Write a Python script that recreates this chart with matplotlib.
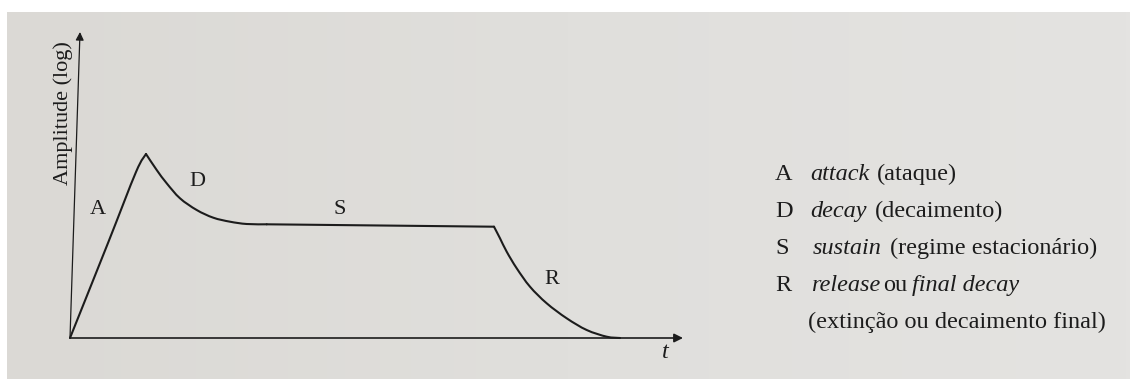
"""
ADSR envelope diagram (attack, decay, sustain, release).
"""
import matplotlib
matplotlib.use("Agg")
import matplotlib.pyplot as plt
from matplotlib.path import Path
from matplotlib.patches import PathPatch
import numpy as np

# envelope (time and amplitude in diagram units)
attack_t = [0.0, 0.38, 0.66, 0.76]
attack_amp = [0.0, 0.95, 1.66, 1.84]
decay_t = [0.76, 0.867, 0.967, 1.10, 1.267, 1.433, 1.60, 1.767, 1.967]
decay_amp = [1.84, 1.68, 1.547, 1.397, 1.28, 1.203, 1.163, 1.14, 1.137]
sustain_t = [1.967, 4.24]
sustain_amp = [1.137, 1.113]
release_t = [4.24, 4.30, 4.367, 4.467, 4.60, 4.767, 4.967, 5.167, 5.367, 5.50]
release_amp = [1.113, 0.997, 0.863, 0.697, 0.513, 0.347, 0.197, 0.08, 0.013, 0.0]

stage_letters = ["A", "D", "S", "R"]
stage_terms = ["attack", "decay", "sustain", "release"]
stage_notes = ["(ataque)", "(decaimento)", "(regime estacionário)", "ou"]
release_extra = "final decay"
release_note = "(extinção ou decaimento final)"

INK = "#1c1c1c"
FONT = "Liberation Serif"
FS = 17.5

W, H = 1130, 379
fig = plt.figure(figsize=(W / 100, H / 100), dpi=100, facecolor="white")


def px(x, y):
    """pixel position (from top left) -> figure fraction"""
    return x / W, 1 - y / H


def smooth_path(t, a):
    """Bezier path through the read points (Catmull-Rom tangents)."""
    p = np.column_stack([t, a])
    ext = np.vstack([p[0], p, p[-1]])
    verts, codes = [p[0]], [Path.MOVETO]
    for i in range(len(p) - 1):
        p0, p1, p2, p3 = ext[i], ext[i + 1], ext[i + 2], ext[i + 3]
        verts += [p1 + (p2 - p0) / 6, p2 - (p3 - p1) / 6, p2]
        codes += [Path.CURVE4] * 3
    return Path(verts, codes)


# photographed page (white strip on top and left edge)
page = fig.add_axes([7 / W, 0, 1 - 7 / W, 1 - 12 / H])
grad = np.linspace(0, 1, 256)[None, :]
page.imshow(grad, aspect="auto", extent=[0, 1, 0, 1],
            cmap=matplotlib.colors.LinearSegmentedColormap.from_list(
                "page", ["#dbd9d5", "#e0dfdc", "#e4e3e1"]))
page.set_axis_off()

# diagram axes: 1 unit = 100 px, origin at (70, 338)
ax = fig.add_axes([0, 0, 1, 1])
ax.set_xlim(-0.70, 10.60)
ax.set_ylim(-0.41, 3.38)
ax.set_axis_off()
ax.patch.set_alpha(0)

for t, a in [(attack_t, attack_amp), (decay_t, decay_amp),
             (sustain_t, sustain_amp), (release_t, release_amp)]:
    ax.add_patch(PathPatch(smooth_path(t, a), fill=False, edgecolor=INK,
                           lw=1.5, capstyle="round", joinstyle="round"))

# axes with arrows
ax.annotate("", xy=(6.13, 0.0), xytext=(0.0, 0.0),
            arrowprops=dict(arrowstyle="-|>", color=INK, lw=1.2,
                            mutation_scale=13, shrinkA=0, shrinkB=0))
ax.annotate("", xy=(0.10, 3.06), xytext=(0.0, 0.0),
            arrowprops=dict(arrowstyle="-|>", color=INK, lw=0.9,
                            mutation_scale=12, shrinkA=0, shrinkB=0))

ax.text(-0.07, 2.25, "Amplitude (log)", rotation=90, ha="center",
        va="center", fontsize=16, family=FONT, color=INK)
ax.text(5.95, -0.14, "t", ha="center", va="center", fontsize=FS,
        family=FONT, style="italic", color=INK)

stage_pos = [(0.28, 1.28), (1.27, 1.56), (2.70, 1.28), (4.82, 0.59)]
for letter, (tx, ty) in zip(stage_letters, stage_pos):
    ax.text(tx, ty, letter, ha="center", va="center", fontsize=16,
            family=FONT, color=INK)

# key on the right
baselines = [180, 217, 254, 291]
term_x = [810, 810, 813, 811]
style = dict(fontsize=FS, family=FONT, color=INK)
for i, letter in enumerate(stage_letters):
    y = baselines[i]
    fig.text(*px(775, y), letter, va="baseline", **style)
    term = fig.text(*px(term_x[i], y), stage_terms[i], style="italic",
                    va="baseline", **style)
    gap = 3 if i == 3 else 8
    # bbox bottom = baseline - descent, so va="bottom" keeps the baseline
    note = ax.annotate(stage_notes[i], xy=(1, 0), xycoords=term,
                       xytext=(gap, 0), textcoords="offset pixels",
                       ha="left", va="bottom", annotation_clip=False,
                       **style)
    if i == 3:
        ax.annotate(release_extra, xy=(1, 0), xycoords=note,
                    xytext=(4, 0), textcoords="offset pixels", ha="left",
                    va="bottom", style="italic", annotation_clip=False,
                    **style)
fig.text(*px(808, 328), release_note, va="baseline", **style)

fig.savefig("out.png", dpi=100, facecolor="white")
